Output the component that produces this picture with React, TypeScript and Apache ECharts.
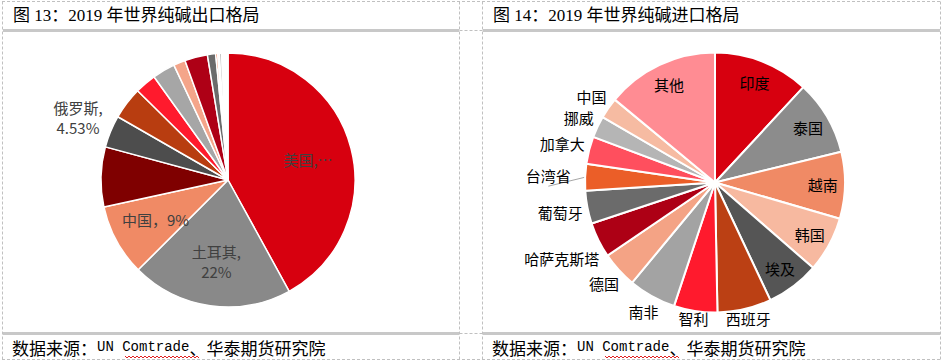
import React, { useEffect, useRef } from "react";
import * as echarts from "echarts";

// ---------- data ----------
const exportNames = ["美国", "土耳其", "中国", "保加利亚", "俄罗斯", "德国", "法国", "肯尼亚", "荷兰", "波兰", "罗马尼亚", "西班牙", "意大利", "比利时", "其他"];
const exportValues = [42.0, 20.5, 9.1, 7.6, 4.1, 4.1, 2.7, 2.9, 1.5, 2.9, 1.05, 0.25, 0.2, 0.3, 0.8];
const exportLabelNames = ["美国", "土耳其", "中国", "俄罗斯"];
const exportLabelTexts = ["美国,…", "土耳其,\n22%", "中国，9%", "俄罗斯,\n4.53%"];
const exportInside = ["美国", "土耳其", "中国"];

const importNames = ["印度", "泰国", "越南", "韩国", "埃及", "西班牙", "智利", "南非", "德国", "哈萨克斯塔", "葡萄牙", "台湾省", "加拿大", "挪威", "中国", "其他"];
const importValues = [11.9, 9.3, 8.3, 6.9, 6.6, 6.7, 5.4, 5.9, 4.5, 4.4, 4.1, 3.3, 3.4, 2.7, 2.6, 14.0];
const importInside = ["印度", "泰国", "越南", "韩国", "埃及", "其他"];

const titleLeft = "图 13：2019 年世界纯碱出口格局";
const titleRight = "图 14：2019 年世界纯碱进口格局";
const sourceParts = ["数据来源：", "UN Comtrade", "、华泰期货研究院"];

// ---------- styles ----------
const exportColors = ["#d7000f", "#898989", "#f08a65", "#7f0000", "#4d4d4d", "#b83d10", "#ff1a2d", "#a6a6a6", "#f4a58a", "#ae0016", "#6b6b6b", "#e55a28", "#f4a58a", "#bfbfbf", "#ffffff"];
const importColors = ["#d7000f", "#8c8c8c", "#f08a65", "#f7b9a0", "#555555", "#bb4014", "#ff1a2d", "#a3a3a3", "#f4a385", "#ad0015", "#6b6b6b", "#eb5e28", "#ff4f5e", "#b5b5b5", "#f6bba2", "#ff8c93"];

const CJK = "'Noto Sans CJK SC', sans-serif";

function makeLayout(
  names: string[],
  values: number[],
  cx: number,
  cy: number,
  R: number,
  inside: string[],
  k: number,
  gap: number,
  bottom: number,
  extra: Record<string, number>,
  leader: string[]
) {
  const total = values.reduce((a, b) => a + b, 0);
  const mids: number[] = [];
  let acc = 0;
  values.forEach((v) => {
    mids.push(((acc + v / 2) / total) * 2 * Math.PI);
    acc += v;
  });
  return (p: any) => {
    const i = p.dataIndex;
    const name = names[i];
    const a = mids[i];
    const dx = Math.sin(a);
    const dy = -Math.cos(a);
    const w = p.labelRect.width;
    const h = p.labelRect.height;
    let d: number;
    if (inside.includes(name)) d = R * k;
    else d = R + gap + (Math.abs(dx) * w) / 2 + (Math.abs(dy) * h) / 2 + (extra[name] || 0);
    const x = cx + d * dx;
    let y = cy + d * dy;
    y = Math.min(y, bottom - h / 2);
    const res: any = { x, y, align: "center", verticalAlign: "middle" };
    if (leader.includes(name)) {
      res.labelLinePoints = [
        [cx + R * dx, cy + R * dy],
        [x, y + h / 2 + 3],
      ];
    }
    return res;
  };
}

export default function App() {
  const ref = useRef<HTMLDivElement>(null);

  useEffect(() => {
    if (!ref.current) return;
    const chart = echarts.init(ref.current, undefined, { renderer: "svg" });

    const L = { cx: 228, cy: 180, r: 127 };
    const Rr = { cx: 715, cy: 182.5, r: 130 };

    const dash = { stroke: "#c0c0c0", lineWidth: 1, lineDash: [3, 2] };
    const hLine = (y: number, x1: number, x2: number) => ({ type: "line", silent: true, shape: { x1, y1: y, x2, y2: y }, style: dash });
    const vLine = (x: number, y1: number, y2: number) => ({ type: "line", silent: true, shape: { x1: x, y1, x2: x, y2 }, style: dash });
    const bar = (x: number, y: number, w: number) => ({ type: "rect", silent: true, shape: { x, y, width: w, height: 3 }, style: { fill: "#c8c8c8" } });

    const wave = (x0: number, x1: number, y: number) => {
      const pts: number[][] = [];
      let up = true;
      for (let x = x0; x <= x1; x += 2) {
        pts.push([x, up ? y : y + 2]);
        up = !up;
      }
      return { type: "polyline", silent: true, shape: { points: pts }, style: { stroke: "#e02020", lineWidth: 1, fill: null } };
    };

    const titleText = (x: number, text: string) => ({
      type: "text",
      silent: true,
      x,
      y: 15,
      style: {
        text,
        fontSize: 17,
        fontFamily: "'Liberation Serif', 'Noto Sans CJK SC', serif",
        fill: "#000",
        verticalAlign: "middle",
        align: "left",
      },
    });

    const footerText = (x: number) => ({
      type: "text",
      silent: true,
      x,
      y: 347,
      style: {
        text: `{c|${sourceParts[0]}}{m|${sourceParts[1]}}{c|${sourceParts[2]}}`,
        verticalAlign: "middle",
        align: "left",
        fill: "#000",
        rich: {
          c: { fontSize: 17, fontFamily: CJK, fill: "#000" },
          m: { fontSize: 14, fontFamily: "'Liberation Mono', monospace", fill: "#000" },
        },
      },
    });

    const exportLabelMap: Record<string, string> = {};
    exportLabelNames.forEach((n, i) => (exportLabelMap[n] = exportLabelTexts[i]));

    const option: any = {
      animation: false,
      backgroundColor: "#ffffff",
      series: [
        {
          type: "pie",
          silent: true,
          center: [L.cx, L.cy],
          radius: L.r,
          startAngle: 90,
          clockwise: true,
          avoidLabelOverlap: false,
          emphasis: { disabled: true },
          itemStyle: { borderColor: "#ffffff", borderWidth: 1.5 },
          label: {
            show: true,
            position: "outside",
            color: "#404040",
            fontSize: 15,
            fontFamily: CJK,
            lineHeight: 20,
            formatter: (p: any) => exportLabelMap[p.name] || "",
          },
          labelLine: { show: false },
          labelLayout: makeLayout(exportNames, exportValues, L.cx, L.cy, L.r, exportInside, 0.65, 5, 330, {}, []),
          data: exportNames.map((n, i) => ({
            name: n,
            value: exportValues[i],
            itemStyle: { color: exportColors[i] },
            label: { show: !!exportLabelMap[n] },
          })),
        },
        {
          type: "pie",
          silent: true,
          center: [Rr.cx, Rr.cy],
          radius: Rr.r,
          startAngle: 90,
          clockwise: true,
          avoidLabelOverlap: false,
          emphasis: { disabled: true },
          itemStyle: { borderColor: "#ffffff", borderWidth: 2 },
          label: {
            show: true,
            position: "outside",
            color: "#000000",
            fontSize: 15,
            fontFamily: CJK,
            formatter: "{b}",
          },
          labelLine: { show: false },
          labelLayout: makeLayout(importNames, importValues, Rr.cx, Rr.cy, Rr.r, importInside, 0.83, 4, 326, { "台湾省": 10 }, ["台湾省"]),
          data: importNames.map((n, i) => ({
            name: n,
            value: importValues[i],
            itemStyle: { color: importColors[i] },
            labelLine: n === "台湾省" ? { show: true, lineStyle: { color: "#a6a6a6", width: 1 } } : { show: false },
          })),
        },
      ],
      graphic: [
        hLine(1.5, 2, 941),
        hLine(359.5, 2, 941),
        vLine(2.5, 1.5, 359.5),
        vLine(459.5, 1.5, 359.5),
        vLine(482.5, 1.5, 359.5),
        vLine(940.5, 1.5, 359.5),
        hLine(30.5, 459.5, 482.5),
        hLine(333.5, 459.5, 482.5),
        bar(3, 29, 456),
        bar(483, 29, 457),
        bar(3, 332, 456),
        bar(483, 332, 457),
        titleText(13, titleLeft),
        titleText(493, titleRight),
        footerText(12),
        footerText(492),
        wave(125, 200, 356),
        wave(605, 680, 356),
      ],
    };

    chart.setOption(option);
    return () => chart.dispose();
  }, []);

  return (
    <div
      ref={ref}
      style={{ position: "fixed", left: 0, top: 0, width: 943, height: 362, background: "#fff" }}
    />
  );
}
